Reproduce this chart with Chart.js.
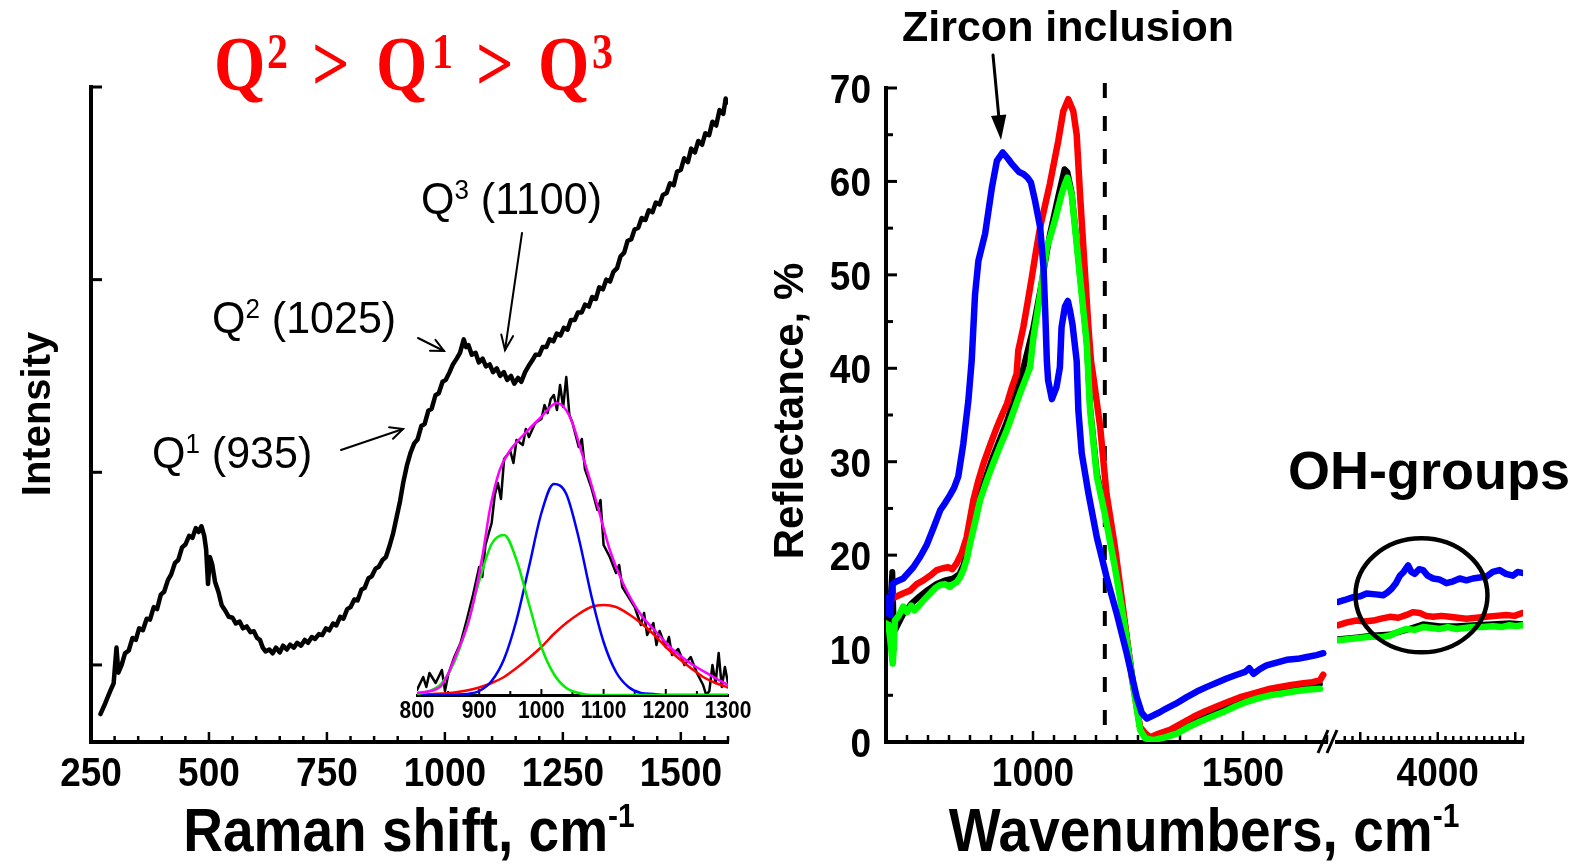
<!DOCTYPE html>
<html>
<head>
<meta charset="utf-8">
<script src="https://cdn.jsdelivr.net/npm/chart.js@4.4.1/dist/chart.umd.min.js"></script>
<style>
  body { margin: 0; background: #fff; }
  #page { position: relative; width: 1584px; height: 868px; background: #fff; overflow: hidden; }
  #page canvas { position: absolute; left: 0; top: 0; }
</style>
</head>
<body>
<div id="page">
  <canvas id="raman" width="1584" height="868"></canvas>
  <canvas id="inset" width="1584" height="868"></canvas>
  <canvas id="refl" width="1584" height="868"></canvas>
  <canvas id="reflOH" width="1584" height="868"></canvas>
</div>
<script>
// Raman spectrum (left panel)
const ramanShift = [
  270,280,290,298,304,308,315,322,330,338,
  345,352,360,368,375,383,390,398,405,413,
  420,428,435,443,450,458,465,472,478,484,
  490,494,498,502,507,513,520,527,535,542,
  550,557,565,572,580,588,595,602,608,614,
  620,628,635,642,650,657,665,672,680,687,
  695,703,710,718,725,733,740,748,755,763,
  770,778,785,793,800,808,815,823,830,838,
  845,853,860,868,875,883,890,898,905,912,
  920,927,935,942,950,957,965,972,980,987,
  995,1002,1010,1017,1025,1032,1040,1045,1050,1057,
  1065,1072,1080,1087,1095,1102,1110,1117,1125,1132,
  1140,1147,1155,1162,1170,1177,1185,1192,1200,1207,
  1215,1222,1230,1237,1245,1252,1260,1267,1275,1282,
  1290,1297,1305,1312,1320,1327,1335,1342,1350,1357,
  1365,1372,1380,1387,1395,1402,1410,1417,1425,1432,
  1440,1447,1455,1462,1470,1477,1485,1492,1500,1507,
  1515,1522,1530,1537,1545,1552,1560,1567,1575,1582,
  1590,1595,1598
];
const ramanCounts = [
  745,800,860,905,1090,960,1000,1060,1075,1140,
  1130,1190,1180,1240,1235,1300,1290,1365,1380,1440,
  1470,1530,1545,1610,1625,1670,1660,1710,1690,1720,
  1670,1600,1420,1560,1520,1430,1380,1310,1280,1250,
  1245,1215,1225,1190,1200,1170,1175,1140,1130,1090,
  1070,1080,1060,1090,1065,1100,1080,1105,1090,1115,
  1100,1130,1115,1145,1135,1160,1155,1190,1180,1215,
  1205,1250,1240,1290,1300,1340,1335,1390,1400,1450,
  1460,1500,1510,1545,1560,1620,1680,1770,1850,1950,
  2040,2100,2150,2170,2240,2250,2320,2330,2400,2410,
  2470,2480,2520,2560,2590,2620,2690,2650,2660,2610,
  2620,2570,2590,2550,2560,2520,2540,2500,2520,2480,
  2500,2460,2490,2470,2520,2550,2580,2610,2610,2650,
  2650,2690,2680,2720,2710,2750,2740,2790,2790,2830,
  2830,2870,2860,2910,2900,2960,2950,3000,2990,3040,
  3060,3120,3140,3200,3210,3260,3270,3320,3310,3360,
  3350,3400,3390,3440,3450,3500,3490,3560,3570,3630,
  3610,3680,3660,3720,3700,3760,3750,3820,3800,3880,
  3860,3940,3920
];
const ramanTicks = [250, 500, 750, 1000, 1250, 1500];
const intensityTicks = [1000, 2000, 3000, 4000];

// inset: 800-1300 band, background removed
const insetShift = [
  800,810,815,820,830,840,845,850,860,870,
  880,890,900,905,910,920,925,930,935,940,
  950,955,960,970,975,980,990,1000,1005,1010,
  1015,1020,1025,1030,1035,1040,1045,1050,1060,1065,
  1070,1080,1090,1095,1100,1110,1120,1125,1130,1140,
  1150,1160,1165,1170,1180,1185,1190,1200,1205,1210,
  1220,1230,1240,1250,1260,1265,1270,1275,1280,1285,
  1290,1295,1300
];
const insetCounts = [
  5,18,8,22,12,25,4,20,38,52,
  75,100,128,118,150,172,200,212,196,236,
  244,232,255,250,266,258,272,276,290,282,
  296,300,285,310,288,318,280,272,248,256,
  226,208,185,195,150,138,122,130,108,98,
  88,70,82,60,72,50,64,48,58,40,
  46,30,38,22,10,0,4,30,12,42,
  8,28,12
];
const bandShift = [800,820,840,860,880,900,920,940,960,980,1000,1020,1040,1060,1080,1100,1120,1140,1160,1180,1200,1220,1240,1260,1280,1300];
const bandQ1 = [1,4,12,33,68,114,151,160,135,91,48,21,7,2,0,0,0,0,0,0,0,0,0,0,0,0];
const bandQ2 = [0,0,0,0.3,1,4,14,36,75,128,182,211,201,157,100,53,23,8,2,1,0,0,0,0,0,0];
const bandQ3 = [0.3,0.7,1.4,2.5,4.5,7.5,12,18,27,37,48,61,72,81,88,90,88,81,72,61,48,37,27,18,12,7.5];
const fitShift = [800,837,864,885,906,917,933,950,971,998,1025,1046,1067,1089,1110,1131,1158,1186,1212,1239,1271,1300];
const fitCounts = [2,8,42,78,142,185,225,245,260,277,292,278,238,192,145,112,82,62,45,32,20,10];
const insetTicks = [800, 900, 1000, 1100, 1200, 1300];

// reflectance, 650-1700 cm-1
const blueWn = [
  650,656,660,665,671,691,715,731,747,763,
  779,791,802,812,822,834,846,854,862,870,
  886,902,914,928,941,949,957,967,977,987,
  995,1005,1017,1025,1029,1033,1036,1045,1056,1064,
  1068,1076,1083,1088,1094,1104,1108,1116,1132,1152,
  1175,1199,1223,1247,1259,1271,1298,1310,1340,1366,
  1390,1414,1440,1461,1485,1505,1515,1525,1540,1556,
  1580,1604,1630,1652,1675,1691
];
const blueR = [
  13.8,15.5,13.6,16.8,17.1,17.5,18.7,19.8,21.1,22.9,
  24.8,25.6,26.4,27.2,28.4,31.9,36.5,40.8,47.9,51.5,
  54.4,59.3,62.2,63.1,62.4,61.9,61.5,61.0,60.8,60.4,
  59.9,57.9,55.1,50.8,46.2,40.8,38.7,36.7,38.0,40.1,
  44.4,46.6,47.2,46.2,44.7,40.8,35.5,30.9,26.6,21.9,
  17.7,13.8,9.5,4.8,3.1,2.5,3.1,3.4,4.1,4.8,
  5.4,5.9,6.4,6.8,7.2,7.5,7.9,7.3,7.8,8.2,
  8.5,8.8,8.9,9.1,9.3,9.5
];
const redWn = [
  655,662,671,690,707,723,739,755,771,785,
  798,808,818,830,842,858,870,882,898,914,
  926,938,950,961,965,977,987,997,1007,1017,
  1029,1040,1050,1060,1072,1084,1096,1104,1112,1122,
  1132,1138,1144,1160,1175,1195,1215,1235,1255,1268,
  1279,1300,1326,1354,1382,1410,1437,1465,1493,1517,
  1540,1565,1588,1615,1644,1665,1683,1691
];
const redR = [
  14.5,15.2,15.5,15.9,16.2,16.9,17.3,17.8,18.4,18.6,
  18.7,18.5,19.1,20.2,21.9,25.9,28.0,29.8,31.8,33.7,
  35.0,36.2,38.0,39.4,41.9,44.4,47.0,49.7,52.5,55.1,
  57.5,59.7,62.0,64.3,67.5,68.8,67.5,65.0,58.6,51.5,
  44.4,40.8,39.0,33.7,26.6,20.9,14.1,7.0,1.6,0.9,
  0.5,0.9,1.3,2.0,2.7,3.3,3.8,4.3,4.8,5.1,
  5.4,5.7,5.9,6.1,6.3,6.4,6.6,7.2
];
const greenWn = [
  650,656,660,666,669,671,680,691,700,710,
  718,727,740,755,768,779,790,802,810,818,
  826,834,842,850,862,874,890,905,921,937,
  953,969,981,993,1001,1009,1017,1025,1033,1043,
  1052,1060,1068,1075,1082,1092,1098,1104,1116,1128,
  1136,1152,1171,1195,1219,1239,1255,1267,1286,1314,
  1342,1370,1398,1425,1453,1481,1509,1537,1564,1592,
  1620,1650,1683
];
const greenR = [
  12.7,12.5,11.0,8.4,10.5,13.0,13.5,14.5,13.9,14.6,
  14.1,14.5,15.2,15.9,16.5,16.8,16.9,16.6,16.9,17.1,
  17.6,18.4,19.5,21.2,23.5,25.9,28.0,29.8,31.6,33.3,
  35.3,37.3,38.7,40.1,43.3,45.6,47.9,50.5,52.9,54.4,
  55.8,57.2,58.6,59.6,60.4,58.6,56.0,53.3,47.9,42.6,
  35.5,28.4,24.4,18.7,12.3,5.9,1.3,0.4,0.2,0.5,
  0.9,1.6,2.2,2.7,3.2,3.8,4.3,4.7,5.0,5.2,
  5.4,5.6,5.7
];
const blackWn = [
  650,656,662,665,668,672,690,710,730,750,
  770,790,810,825,835,850,874,905,937,969,
  1000,1020,1040,1060,1075,1082,1092,1104,1116,1128,
  1136,1152,1171,1195,1219,1239,1255,1268,1286,1342,
  1398,1453,1509,1564,1620,1683
];
const blackR = [
  12.0,13.5,16.0,18.2,13.0,12.0,13.6,14.8,15.6,16.3,
  16.9,17.3,17.5,18.0,19.0,21.8,26.6,30.6,34.2,38.6,
  44.2,49.0,54.3,58.4,61.3,61.0,58.8,53.5,48.2,42.8,
  35.8,28.8,24.7,19.0,12.6,6.2,1.5,0.6,0.5,1.2,
  2.6,3.6,4.7,5.4,5.9,6.2
];
const reflWnTicks = [1000, 1500];
const reflTicks = [0, 10, 20, 30, 40, 50, 60, 70];

// reflectance, OH stretching range
const ohBlueWn = [2717,2800,2910,3000,3082,3200,3296,3350,3404,3460,3511,3560,3618,3660,3704,3760,3811,3870,3940,4020,4112,4200,4283,4370,4454,4540,4627,4710,4798,4880,4969,5030,5090];
const ohBlueR = [15.0,15.2,15.5,15.6,15.9,15.8,15.7,16.0,16.4,17.0,17.8,18.2,18.9,18.2,18.0,18.5,18.4,17.8,17.5,17.4,17.0,17.2,17.5,17.3,17.5,17.6,17.7,18.2,18.4,18.0,17.8,18.2,18.1];
const ohRedWn = [2717,2830,2954,3060,3167,3270,3382,3490,3597,3680,3768,3850,3940,4050,4154,4260,4369,4500,4627,4750,4884,4990,5090];
const ohRedR = [12.5,12.8,13.0,12.9,13.0,13.2,13.4,13.3,13.6,13.9,13.8,13.5,13.4,13.5,13.4,13.3,13.2,13.3,13.4,13.5,13.6,13.5,13.8];
const ohGreenWn = [2717,2830,2954,3060,3167,3270,3382,3490,3597,3700,3811,3920,4026,4130,4240,4350,4454,4580,4712,4820,4927,5010,5090];
const ohGreenR = [10.9,11.0,11.1,11.2,11.3,11.2,11.4,11.8,12.1,12.0,12.3,12.2,12.1,12.3,12.1,12.2,12.3,12.3,12.4,12.3,12.5,12.4,12.5];
const ohBlackWn = [2717,2954,3167,3382,3597,3811,4026,4240,4454,4712,4927,5090];
const ohBlackR = [11.0,11.2,11.4,11.5,12.0,12.6,12.4,12.4,12.5,12.6,12.7,12.6];
const ohWnTicks = [4000];

const SANS = '"Liberation Sans", Arial, sans-serif';
const SERIF = '"Liberation Serif", "Times New Roman", serif';

function pts(xs, ys) {
  return xs.map((x, i) => ({ x: x, y: ys[i] }));
}

function line(data, color, width, smooth) {
  return {
    data: data,
    borderColor: color,
    borderWidth: width,
    pointRadius: 0,
    tension: 0,
    cubicInterpolationMode: smooth ? 'monotone' : 'default',
    borderJoinStyle: 'round',
    borderCapStyle: 'round'
  };
}

// axes keep their border but take no room, labels are painted separately
function squash(scale) {
  if (scale.isHorizontal()) scale.height = 0;
  else scale.width = 0;
}

function axis(min, max, tickValues, borderWidth, show) {
  return {
    type: 'linear',
    display: show !== false,
    min: min,
    max: max,
    ticks: { display: false },
    grid: { display: false, drawTicks: false },
    border: { display: true, color: '#000', width: borderWidth },
    afterBuildTicks: s => { s.ticks = tickValues.map(v => ({ value: v })); },
    afterFit: squash
  };
}

function baseOptions(pad, scales) {
  return {
    responsive: false,
    animation: false,
    devicePixelRatio: 1,
    events: [],
    layout: { padding: pad },
    plugins: { legend: { display: false }, tooltip: { enabled: false } },
    scales: scales
  };
}

// tick marks pointing into the plot
function innerTicks(chart, id, from, to, step, majorStep, majorLen, minorLen, lw) {
  const ctx = chart.ctx, area = chart.chartArea, s = chart.scales[id];
  ctx.save();
  ctx.strokeStyle = '#000';
  ctx.lineWidth = lw;
  for (let v = from; v <= to + 1e-6; v += step) {
    const r = v / majorStep;
    const len = Math.abs(r - Math.round(r)) < 1e-6 ? majorLen : minorLen;
    const p = s.getPixelForValue(v);
    ctx.beginPath();
    if (s.isHorizontal()) {
      ctx.moveTo(p, area.bottom);
      ctx.lineTo(p, area.bottom - len);
    } else {
      ctx.moveTo(area.left, p);
      ctx.lineTo(area.left + len, p);
    }
    ctx.stroke();
  }
  ctx.restore();
}

function text(ctx, s, x, y, o) {
  ctx.save();
  ctx.font = o.font;
  ctx.fillStyle = o.color || '#000';
  ctx.textAlign = o.align || 'left';
  ctx.textBaseline = 'alphabetic';
  ctx.translate(x, y);
  if (o.rot) ctx.rotate(o.rot);
  ctx.scale(1, o.sy || 1);
  ctx.fillText(s, 0, 0);
  ctx.restore();
}

// pieces: [string, font, rise]
function richText(ctx, pieces, x, y, align, sy) {
  let w = 0;
  pieces.forEach(p => { ctx.font = p[1]; w += ctx.measureText(p[0]).width; });
  let cx = align === 'center' ? x - w / 2 : x;
  ctx.save();
  ctx.fillStyle = '#000';
  ctx.textBaseline = 'alphabetic';
  pieces.forEach(p => {
    ctx.font = p[1];
    ctx.save();
    ctx.translate(cx, y - p[2]);
    ctx.scale(1, sy || 1);
    ctx.fillText(p[0], 0, 0);
    ctx.restore();
    cx += ctx.measureText(p[0]).width;
  });
  ctx.restore();
}

function arrow(ctx, x1, y1, x2, y2, len, spread, lw, filled) {
  const a = Math.atan2(y2 - y1, x2 - x1);
  ctx.save();
  ctx.strokeStyle = '#000';
  ctx.fillStyle = '#000';
  ctx.lineWidth = lw;
  ctx.lineCap = 'round';
  ctx.beginPath();
  ctx.moveTo(x1, y1);
  ctx.lineTo(filled ? x2 - Math.cos(a) * len * 0.7 : x2, filled ? y2 - Math.sin(a) * len * 0.7 : y2);
  ctx.stroke();
  const ax = x2 - Math.cos(a - spread) * len, ay = y2 - Math.sin(a - spread) * len;
  const bx = x2 - Math.cos(a + spread) * len, by = y2 - Math.sin(a + spread) * len;
  ctx.beginPath();
  if (filled) {
    ctx.moveTo(x2, y2); ctx.lineTo(ax, ay); ctx.lineTo(bx, by); ctx.closePath(); ctx.fill();
  } else {
    ctx.moveTo(ax, ay); ctx.lineTo(x2, y2); ctx.lineTo(bx, by); ctx.stroke();
  }
  ctx.restore();
}

const TICK_FONT = 'bold 37px ' + SANS;
const TITLE_FONT = 'bold 55px ' + SANS;
const SUP_FONT = 'bold 30px ' + SANS;
const NOTE_FONT = '43px ' + SANS;
const NOTE_SUP = '26px ' + SANS;

function bottomLabels(chart, y, font, sy) {
  const ctx = chart.ctx, xs = chart.scales.x;
  xs.ticks.forEach(t => {
    text(ctx, String(t.value), xs.getPixelForValue(t.value), y, { font: font, align: 'center', sy: sy });
  });
}

// ---- Raman spectrum ----
new Chart(document.getElementById('raman'), {
  type: 'line',
  data: { datasets: [line(pts(ramanShift, ramanCounts), '#000', 4.5)] },
  options: baseOptions({ left: 91, right: 856, top: 87, bottom: 126 }, {
    x: axis(250, 1600, ramanTicks, 4),
    y: axis(600, 4000, intensityTicks, 4)
  }),
  plugins: [{
    id: 'ramanDecor',
    beforeDatasetsDraw(chart) {
      innerTicks(chart, 'x', 300, 1600, 50, 250, 10, 6, 2.5);
      innerTicks(chart, 'y', 1000, 4000, 1000, 1000, 11, 11, 3);
    },
    afterDraw(chart) {
      const ctx = chart.ctx;
      bottomLabels(chart, 786, TICK_FONT, 1.12);
      text(ctx, 'Intensity', 50, 414, { font: 'bold 40px ' + SANS, align: 'center', rot: -Math.PI / 2 });
      richText(ctx, [['Raman shift, cm', TITLE_FONT, 0], ['-1', SUP_FONT, 24]], 409, 851, 'center', 1.1);

      // band assignments
      richText(ctx, [['Q', NOTE_FONT, 0], ['3', NOTE_SUP, 15], [' (1100)', NOTE_FONT, 0]], 421, 214, 'left', 1.05);
      richText(ctx, [['Q', NOTE_FONT, 0], ['2', NOTE_SUP, 15], [' (1025)', NOTE_FONT, 0]], 212, 333, 'left', 1.05);
      richText(ctx, [['Q', NOTE_FONT, 0], ['1', NOTE_SUP, 15], [' (935)', NOTE_FONT, 0]], 152, 468, 'left', 1.05);
      arrow(ctx, 522, 233, 505, 350, 16, 0.38, 2, false);
      arrow(ctx, 418, 338, 444, 351, 14, 0.45, 2, false);
      arrow(ctx, 341, 450, 403, 429, 14, 0.45, 2, false);

      // Q2 > Q1 > Q3
      const big = 'bold 66px ' + SERIF, small = 'bold 42px ' + SERIF;
      [['Q', big, 214, 90], ['2', small, 267, 68], ['>', big, 312, 90],
       ['Q', big, 376, 90], ['1', small, 432, 68], ['>', big, 476, 90],
       ['Q', big, 538, 90], ['3', small, 592, 68]].forEach(p => {
        text(ctx, p[0], p[2], p[3], { font: p[1], color: '#ff0000', sy: 1.2 });
      });
    }
  }]
});

// ---- inset: band deconvolution ----
new Chart(document.getElementById('inset'), {
  type: 'line',
  data: {
    datasets: [
      line(pts(fitShift, fitCounts), '#ff00ff', 2.5, true),
      line(pts(bandShift, bandQ1), '#00ee00', 2.5, true),
      line(pts(bandShift, bandQ2), '#0000ff', 2.5, true),
      line(pts(bandShift, bandQ3), '#ff0000', 2.5, true),
      line(pts(insetShift, insetCounts), '#000', 2.5)
    ]
  },
  options: baseOptions({ left: 417, right: 856, top: 375, bottom: 173 }, {
    x: axis(800, 1300, insetTicks, 3),
    y: axis(0, 320, [], 0, false)
  }),
  plugins: [{
    id: 'insetDecor',
    beforeDatasetsDraw(chart) {
      innerTicks(chart, 'x', 850, 1250, 50, 100, 6, 4, 2);
    },
    afterDraw(chart) {
      bottomLabels(chart, 718, 'bold 21px ' + SANS, 1.1);
    }
  }]
});

// ---- reflectance, 650-1700 cm-1 ----
new Chart(document.getElementById('refl'), {
  type: 'line',
  data: {
    datasets: [
      line(pts(blueWn, blueR), '#0000ff', 6.5),
      line(pts(greenWn, greenR), '#00ff00', 6.5),
      line(pts(redWn, redR), '#ff0000', 6.5),
      line(pts(blackWn, blackR), '#000', 6)
    ]
  },
  options: baseOptions({ left: 886, right: 257, top: 88, bottom: 126 }, {
    x: axis(650, 1700, reflWnTicks, 4),
    y: axis(0, 70, reflTicks, 4)
  }),
  plugins: [{
    id: 'reflDecor',
    beforeDatasetsDraw(chart) {
      innerTicks(chart, 'x', 700, 1700, 50, 500, 11, 7, 2.5);
      innerTicks(chart, 'y', 5, 70, 5, 10, 11, 7, 3);
      // dashed marker
      const ctx = chart.ctx, px = chart.scales.x.getPixelForValue(1171);
      ctx.save();
      ctx.strokeStyle = '#000';
      ctx.lineWidth = 4;
      ctx.setLineDash([15, 18]);
      ctx.beginPath();
      ctx.moveTo(px, 83);
      ctx.lineTo(px, chart.chartArea.bottom - 4);
      ctx.stroke();
      ctx.restore();
    },
    afterDraw(chart) {
      const ctx = chart.ctx, ys = chart.scales.y;
      ys.ticks.forEach(t => {
        text(ctx, String(t.value), 871, ys.getPixelForValue(t.value) + 15, { font: TICK_FONT, align: 'right', sy: 1.12 });
      });
      bottomLabels(chart, 786, TICK_FONT, 1.12);
      text(ctx, 'Reflectance, %', 803, 411, { font: 'bold 42px ' + SANS, align: 'center', rot: -Math.PI / 2 });
      richText(ctx, [['Wavenumbers, cm', TITLE_FONT, 0], ['-1', SUP_FONT, 24]], 1204, 851, 'center', 1.1);
      text(ctx, 'Zircon inclusion', 902, 41, { font: 'bold 43px ' + SANS });
      arrow(ctx, 993, 55, 1001, 140, 26, 0.3, 3, true);

      // axis break
      ctx.save();
      ctx.strokeStyle = '#000';
      ctx.lineWidth = 3;
      ctx.beginPath();
      ctx.moveTo(1318, 753); ctx.lineTo(1328, 730);
      ctx.moveTo(1327, 753); ctx.lineTo(1337, 730);
      ctx.stroke();
      ctx.restore();
    }
  }]
});

// ---- reflectance, OH range ----
new Chart(document.getElementById('reflOH'), {
  type: 'line',
  data: {
    datasets: [
      line(pts(ohBlueWn, ohBlueR), '#0000ff', 6.5),
      line(pts(ohGreenWn, ohGreenR), '#00ff00', 6.5),
      line(pts(ohRedWn, ohRedR), '#ff0000', 6.5),
      line(pts(ohBlackWn, ohBlackR), '#000', 6)
    ]
  },
  options: baseOptions({ left: 1337, right: 61, top: 88, bottom: 126 }, {
    x: axis(2700, 5100, ohWnTicks, 4),
    y: axis(0, 70, [], 0, false)
  }),
  plugins: [{
    id: 'ohDecor',
    beforeDatasetsDraw(chart) {
      innerTicks(chart, 'x', 2800, 5100, 100, 1000, 10, 6, 2.5);
    },
    afterDraw(chart) {
      const ctx = chart.ctx, xs = chart.scales.x, ys = chart.scales.y;
      bottomLabels(chart, 786, TICK_FONT, 1.12);
      text(ctx, 'OH-groups', 1288, 489, { font: 'bold 54px ' + SANS });
      ctx.save();
      ctx.strokeStyle = '#000';
      ctx.lineWidth = 4.5;
      ctx.beginPath();
      ctx.ellipse(xs.getPixelForValue(3790), ys.getPixelForValue(15.7), 66, 57, 0, 0, Math.PI * 2);
      ctx.stroke();
      ctx.restore();
    }
  }]
});
</script>
</body>
</html>
